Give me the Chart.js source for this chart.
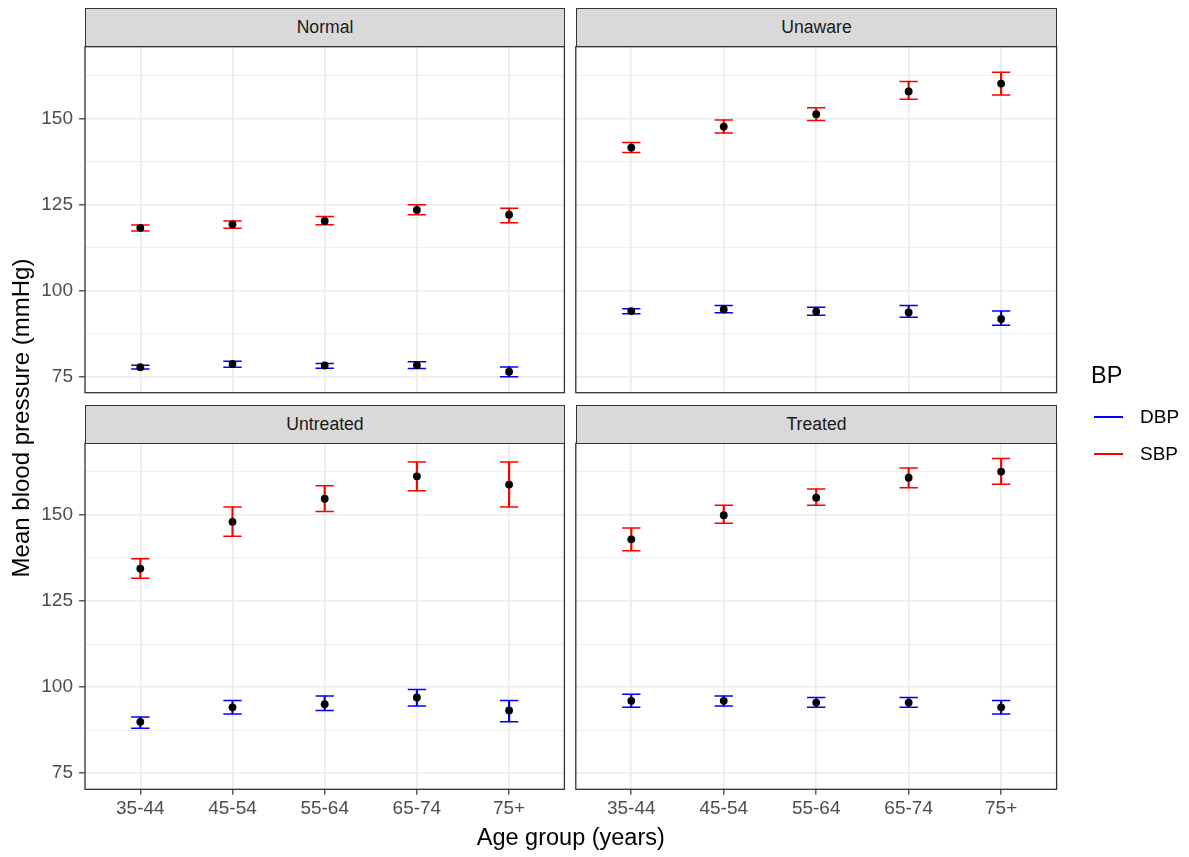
<!DOCTYPE html>
<html>
<head>
<meta charset="utf-8">
<script src="https://cdn.jsdelivr.net/npm/chart.js@4/dist/chart.umd.min.js"></script>
<style>
  html, body { margin: 0; padding: 0; background: #ffffff; }
  #page { position: relative; width: 1189px; height: 857px; overflow: hidden;
          font-family: "Liberation Sans", Arial, sans-serif; }
  #page canvas { position: absolute; left: 0; top: 0; }
  .strip { position: absolute; box-sizing: border-box; background: #D9D9D9;
           border: 1px solid #333333; color: #1A1A1A; font-size: 17.6px;
           display: flex; align-items: center; justify-content: center; }
  .title { position: absolute; color: #000000; font-size: 23.5px; white-space: nowrap;
           text-align: center; line-height: 26px; }
  .legend-key { position: absolute; height: 1.5px; }
  .legend-text { position: absolute; font-size: 19px; line-height: 22px; color: #000000; }
</style>
</head>
<body>
<div id="page"></div>
<script>
// Categories and labels
const ageGroups = ['35-44', '45-54', '55-64', '65-74', '75+'];
const panelNames = ['Normal', 'Unaware', 'Untreated', 'Treated'];
const seriesNames = ['DBP', 'SBP'];
const yTickValues = [75, 100, 125, 150];
const yTickLabels = ['75', '100', '125', '150'];
const yMinorValues = [87.5, 112.5, 137.5, 162.5];
const yLimits = [70.3, 170.8];

// Normal
const normalDBP     = [77.7, 78.7, 78.2, 78.3, 76.4];
const normalDBPLow  = [77.2, 77.7, 77.4, 77.3, 74.9];
const normalDBPHigh = [78.3, 79.4, 78.8, 79.3, 77.8];
const normalSBP     = [118.2, 119.2, 120.2, 123.4, 122.0];
const normalSBPLow  = [117.3, 118.1, 119.1, 122.0, 119.7];
const normalSBPHigh = [119.0, 120.2, 121.5, 124.9, 123.9];

// Unaware
const unawareDBP     = [94.0, 94.5, 93.9, 93.6, 91.7];
const unawareDBPLow  = [93.2, 93.5, 92.8, 92.2, 89.9];
const unawareDBPHigh = [94.7, 95.6, 95.1, 95.6, 94.0];
const unawareSBP     = [141.5, 147.6, 151.2, 157.8, 160.1];
const unawareSBPLow  = [140.1, 145.7, 149.4, 155.5, 156.8];
const unawareSBPHigh = [143.0, 149.5, 153.1, 160.7, 163.4];

// Untreated
const untreatedDBP     = [89.9, 94.1, 95.0, 97.0, 93.2];
const untreatedDBPLow  = [88.0, 92.2, 93.2, 94.5, 89.9];
const untreatedDBPHigh = [91.3, 96.1, 97.4, 99.3, 96.1];
const untreatedSBP     = [134.4, 148.0, 154.7, 161.2, 158.8];
const untreatedSBPLow  = [131.6, 143.8, 151.0, 157.0, 152.3];
const untreatedSBPHigh = [137.3, 152.3, 158.5, 165.4, 165.4];

// Treated
const treatedDBP     = [96.0, 96.0, 95.5, 95.5, 94.1];
const treatedDBPLow  = [94.1, 94.5, 94.1, 94.1, 92.2];
const treatedDBPHigh = [97.9, 97.4, 97.0, 97.0, 96.1];
const treatedSBP     = [142.9, 149.9, 155.0, 160.8, 162.6];
const treatedSBPLow  = [139.6, 147.6, 152.8, 157.9, 158.9];
const treatedSBPHigh = [146.2, 152.8, 157.5, 163.6, 166.4];

// [low, mean, high] per facet and series
const panelData = {
  Normal:    { DBP: [normalDBPLow, normalDBP, normalDBPHigh],          SBP: [normalSBPLow, normalSBP, normalSBPHigh] },
  Unaware:   { DBP: [unawareDBPLow, unawareDBP, unawareDBPHigh],       SBP: [unawareSBPLow, unawareSBP, unawareSBPHigh] },
  Untreated: { DBP: [untreatedDBPLow, untreatedDBP, untreatedDBPHigh], SBP: [untreatedSBPLow, untreatedSBP, untreatedSBPHigh] },
  Treated:   { DBP: [treatedDBPLow, treatedDBP, treatedDBPHigh],       SBP: [treatedSBPLow, treatedSBP, treatedSBPHigh] }
};

const seriesColors = { DBP: '#0000FF', SBP: '#FF0000' };

// Page layout (pixels)
const W = 1189, H = 857;
const colX = [[85, 564.4], [575.8, 1056.6]];
const rowY = [[46.7, 392.7], [443.3, 789.3]];
const stripH = 38.7;
const xAxisH = 40;
const FONT = '"Liberation Sans", Arial, sans-serif';

const page = document.getElementById('page');

// Dark frame around each panel's plotting area
const panelFrame = {
  id: 'panelFrame',
  afterDraw(chart) {
    const { ctx, chartArea: a } = chart;
    ctx.save();
    ctx.strokeStyle = '#333333';
    ctx.lineWidth = 1.3;
    ctx.strokeRect(a.left, a.top, a.right - a.left, a.bottom - a.top);
    ctx.restore();
  }
};

const isMajorY = v => yTickValues.indexOf(v) >= 0;

function makePanel(name, idx) {
  const col = idx % 2, row = Math.floor(idx / 2);
  const [x0, x1] = colX[col];
  const [y0, y1] = rowY[row];
  const showY = col === 0;
  const showX = row === 1;

  const canvas = document.createElement('canvas');
  canvas.width = W;
  canvas.height = H;
  page.appendChild(canvas);

  const datasets = [];
  seriesNames.forEach(s => {
    const [lo, , hi] = panelData[name][s];
    const color = seriesColors[s];
    // vertical stem of each error bar
    datasets.push({
      type: 'bar', label: s,
      data: lo.map((v, i) => ({ x: i, y: [v, hi[i]] })),
      backgroundColor: color, borderWidth: 0,
      barThickness: 1.5, grouped: false, order: 2
    });
    // caps
    [lo, hi].forEach(arr => datasets.push({
      type: 'line', label: s,
      data: arr.map((v, i) => ({ x: i, y: v })),
      showLine: false, pointStyle: 'line', pointRadius: 9.2,
      pointBorderColor: color, pointBorderWidth: 1.5, order: 1
    }));
  });
  seriesNames.forEach(s => {
    const mid = panelData[name][s][1];
    datasets.push({
      type: 'line', label: s,
      data: mid.map((v, i) => ({ x: i, y: v })),
      showLine: false, pointRadius: 3.9,
      pointBackgroundColor: '#000000', pointBorderWidth: 0, order: 0
    });
  });

  new Chart(canvas, {
    type: 'scatter',
    data: { datasets },
    options: {
      responsive: false,
      animation: false,
      events: [],
      layout: {
        autoPadding: false,
        padding: { left: showY ? 0 : x0, right: W - x1, top: y0, bottom: H - y1 - (showX ? xAxisH : 0) }
      },
      plugins: { legend: { display: false }, tooltip: { enabled: false } },
      scales: {
        x: {
          type: 'linear', min: -0.6, max: ageGroups.length - 0.4, offset: false,
          afterBuildTicks: sc => { sc.ticks = ageGroups.map((_, i) => ({ value: i })); },
          afterFit: sc => { sc.height = showX ? xAxisH : 0; },
          border: { display: false },
          grid: { color: '#EBEBEB', lineWidth: 1.6, offset: false, drawTicks: showX,
                  tickLength: 5.5, tickColor: '#333333', tickWidth: 1.2 },
          ticks: { display: showX, autoSkip: false, maxRotation: 0, padding: 3,
                   color: '#4D4D4D', font: { family: FONT, size: 19 },
                   callback: v => ageGroups[v] }
        },
        y: {
          type: 'linear', min: yLimits[0], max: yLimits[1],
          afterBuildTicks: sc => {
            sc.ticks = yTickValues.concat(yMinorValues).sort((a, b) => a - b).map(v => ({ value: v }));
          },
          afterFit: sc => { sc.width = showY ? x0 : 0; },
          border: { display: false },
          grid: {
            color: '#EBEBEB',
            lineWidth: c => (c.tick && !isMajorY(c.tick.value)) ? 0.9 : 1.6,
            drawTicks: showY, tickLength: 6, tickWidth: 1.2,
            tickColor: c => (c.tick && isMajorY(c.tick.value)) ? '#333333' : 'rgba(0,0,0,0)'
          },
          ticks: { display: showY, padding: 6, color: '#4D4D4D', font: { family: FONT, size: 19 },
                   callback: v => { const k = yTickValues.indexOf(v); return k >= 0 ? yTickLabels[k] : ''; } }
        }
      }
    },
    plugins: [panelFrame]
  });

  // facet strip
  const strip = document.createElement('div');
  strip.className = 'strip';
  strip.style.left = x0 + 'px';
  strip.style.top = (y0 - stripH) + 'px';
  strip.style.width = (x1 - x0 + 0.6) + 'px';
  strip.style.height = (stripH + 0.6) + 'px';
  strip.textContent = name;
  page.appendChild(strip);
}

panelNames.forEach(makePanel);

// Axis titles
const xTitle = document.createElement('div');
xTitle.className = 'title';
xTitle.textContent = 'Age group (years)';
xTitle.style.width = '400px';
xTitle.style.left = ((colX[0][0] + colX[1][1]) / 2 - 200) + 'px';
xTitle.style.top = (837 - 13) + 'px';
page.appendChild(xTitle);

const yTitle = document.createElement('div');
yTitle.className = 'title';
yTitle.style.fontSize = '24px';
yTitle.textContent = 'Mean blood pressure (mmHg)';
yTitle.style.width = '400px';
yTitle.style.left = (21 - 200) + 'px';
yTitle.style.top = ((rowY[0][0] + rowY[1][1]) / 2 - 13) + 'px';
yTitle.style.transform = 'rotate(-90deg)';
page.appendChild(yTitle);

// Legend
const legTitle = document.createElement('div');
legTitle.className = 'title';
legTitle.style.textAlign = 'left';
legTitle.style.left = '1091px';
legTitle.style.top = (375 - 13) + 'px';
legTitle.textContent = 'BP';
page.appendChild(legTitle);

const legendY = [417, 454];
seriesNames.forEach((s, i) => {
  const key = document.createElement('div');
  key.className = 'legend-key';
  key.style.left = '1094px';
  key.style.width = '29px';
  key.style.top = (legendY[i] - 0.75) + 'px';
  key.style.backgroundColor = seriesColors[s];
  page.appendChild(key);
  const txt = document.createElement('div');
  txt.className = 'legend-text';
  txt.style.left = '1140px';
  txt.style.top = (legendY[i] - 11) + 'px';
  txt.textContent = s;
  page.appendChild(txt);
});
</script>
</body>
</html>
